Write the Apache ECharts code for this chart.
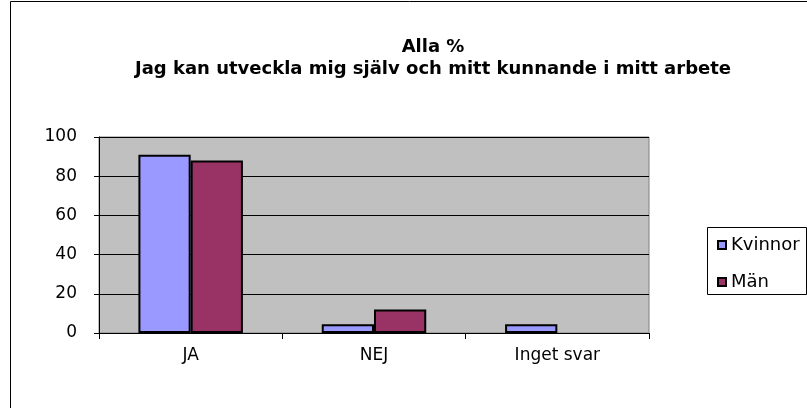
<!DOCTYPE html>
<html>
<head>
<meta charset="utf-8">
<script src="https://cdn.jsdelivr.net/npm/echarts@6/dist/echarts.min.js"></script>
<style>
  html, body { margin: 0; padding: 0; background: #fff; }
  #main { width: 807px; height: 408px; }
</style>
</head>
<body>
<div id="main"></div>
<script>
var categories = ['JA', 'NEJ', 'Inget svar'];
var kvinnor = [91, 4.5, 4.5];
var man = [88, 12, null];
var yTicks = { min: 0, max: 100, interval: 20 };

var font = 'DejaVu Sans, Arial, sans-serif';
var myChart = echarts.init(document.getElementById('main'));
var option = {
    animation: false,
    backgroundColor: '#fff',
    title: {
        text: 'Alla %\nJag kan utveckla mig själv och mitt kunnande i mitt arbete',
        left: 428,
        top: 31,
        textAlign: 'center',
        textStyle: { fontFamily: font, fontSize: 18, fontWeight: 'bold', color: '#000', lineHeight: 22 }
    },
    // ram och legendruta
    graphic: [
        { type: 'rect', shape: { x: 10.5, y: 1.5, width: 820, height: 430 }, style: { fill: 'none', stroke: '#000', lineWidth: 1 }, z: -1 },
        { type: 'rect', shape: { x: 707.5, y: 227.5, width: 99, height: 67 }, style: { fill: '#fff', stroke: '#000', lineWidth: 1 }, z: 1 }
    ],
    legend: {
        data: ['Kvinnor', 'Män'],
        orient: 'vertical',
        left: 712,
        top: 231,
        itemWidth: 8,
        itemHeight: 8,
        itemGap: 19,
        itemTextGap: 2,
        icon: 'rect',
        z: 5,
        textStyle: { fontFamily: font, fontSize: 18, color: '#000' }
    },
    grid: {
        left: 99, top: 137, right: 158, bottom: 75,
        show: true, backgroundColor: '#c0c0c0', borderColor: '#808080', borderWidth: 1,
        containLabel: false
    },
    xAxis: {
        type: 'category',
        data: categories,
        axisLine: { lineStyle: { color: '#000', width: 1 } },
        axisTick: { show: true, length: 6, interval: 0, lineStyle: { color: '#000' } },
        axisLabel: { fontFamily: font, fontSize: 17, color: '#000', margin: 14 }
    },
    yAxis: {
        type: 'value',
        min: yTicks.min, max: yTicks.max, interval: yTicks.interval,
        axisLine: { show: true, lineStyle: { color: '#000', width: 1 } },
        axisTick: { show: true, length: 5, lineStyle: { color: '#000' } },
        axisLabel: { fontFamily: font, fontSize: 17, color: '#000', margin: 22 },
        splitLine: { show: true, lineStyle: { color: '#000', width: 1 } }
    },
    series: [
        {
            name: 'Kvinnor', type: 'bar', data: kvinnor,
            barGap: '0%', barCategoryGap: '43%',
            itemStyle: { color: '#9999ff', borderColor: '#000', borderWidth: 2 }
        },
        {
            name: 'Män', type: 'bar', data: man,
            itemStyle: { color: '#993366', borderColor: '#000', borderWidth: 2 }
        }
    ]
};
myChart.setOption(option);
</script>
</body>
</html>
